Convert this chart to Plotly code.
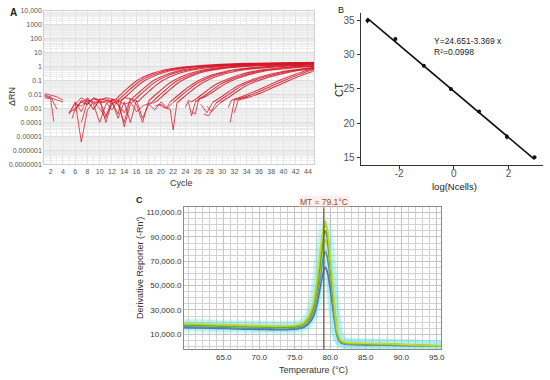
import plotly.graph_objects as go

# ---------------- Panel A : amplification curves ----------------
cycle_ticks = list(range(2, 45, 2))
rn_tickvals = [1e-7, 1e-6, 1e-5, 1e-4, 1e-3, 1e-2, 1e-1, 1, 10, 100, 1000, 10000]
rn_ticktext = ["0.0000001", "0.000001", "0.00001", "0.0001", "0.001", "0.01",
               "0.1", "1", "10", "100", "1000", "10,000"]

# background noise segments (before take-off)
noise_x = [
    [1, 2, 3, 4, None, 6, 7, 8, 9, 10, 11, 12, 12.5],
    [1, 2, 3, None, 5, 6, 7, 8, 9, 10, 11, 12, 13],
    [1, 2, 3, 4, None, 7, 8, 9, 10, 11, 12, 13, 13.5],
    [1, 2, 2.5, None, 5, 6, 7, 8, 9, 10, 11, 12, 13, 14, 15],
    [5.5, 6, 7, 8, 9, 10, 11, 12, 13, 14, 15, 15.5],
    [6, 7, 8, 9, 10, 11, 12, 13, 14, 15, 16.2],
    [5, 6, 7, 8, 9, 10, 11, 12, 13, 14, 15, 16, 17, 18],
    [6, 7, 8, 9, 10, 11, 12, 13, 14, 15, 16, 17, 18.6],
    [8, 9, 10, 11, 12, 13, 14, 15, 16, 17, 18, 19.2],
    [18, 19, 20, 21, 21.5],
    [19, 20, 21, 22],
    [19.5, 20.5, 21.5, 22, 22.6],
    [24, 24.5, 25],
    [24.5, 25, 25.6],
    [25, 25.6, 26.2],
    [26.5, 27.5, 28.5],
    [27, 27.8, 29],
    [27.5, 28.3, 29.6],
    [31, 31.5],
    [31.3, 32],
    [32, 32.6],
]
noise_y = [
    [0.012, 0.009, 0.007, 0.004, None, 0.0007, 0.004, 0.002, 0.005, 0.003, 0.0035, 0.004, 0.004],
    [0.009, 0.007, 0.0009, None, 0.0004, 0.003, 0.0006, 0.006, 0.002, 0.004, 0.0003, 0.002, 0.004],
    [0.008, 0.006, 0.004, 0.003, None, 0.0001, 0.003, 0.001, 0.004, 0.0001, 0.003, 0.0004, 0.0035],
    [0.006, 0.005, 0.00012, None, 0.0005, 0.002, 0.006, 0.003, 0.005, 0.004, 0.005, 0.003, 0.002, 0.0005, 0.004],
    [0.0002, 0.001, 0.003, 0.002, 0.006, 0.004, 0.006, 0.005, 0.004, 0.00005, 0.002, 0.0035],
    [0.003, 0.000004, 0.0008, 0.003, 0.001, 0.0002, 0.005, 0.002, 0.0001, 0.005, 0.003],
    [0.0005, 0.001, 0.003, 0.005, 0.002, 0.0001, 0.002, 0.004, 0.003, 0.006, 0.005, 0.002, 0.0001, 0.0035],
    [0.002, 0.0015, 0.004, 0.003, 0.0025, 0.003, 0.0008, 0.004, 0.002, 0.003, 0.0006, 0.0015, 0.003],
    [0.004, 0.0008, 0.005, 0.004, 0.003, 0.0002, 0.003, 0.0001, 0.004, 0.0002, 0.002, 0.003],
    [0.002, 0.0008, 0.003, 0.0012, 0.003],
    [0.0015, 0.002, 0.001, 0.0028],
    [0.002, 0.0012, 0.0009, 0.00003, 0.0025],
    [0.0012, 0.004, 0.003],
    [0.003, 0.0003, 0.0028],
    [0.0006, 0.0004, 0.005],
    [0.002, 0.0005, 0.003],
    [0.0004, 0.0003, 0.0025],
    [0.0015, 0.0006, 0.0025],
    [0.0012, 0.004],
    [0.0001, 0.004],
    [0.0005, 0.004],
]
# exponential / plateau part of each curve
grow_x = [
    [12.5, 13.5, 14.5, 15.5, 16.5, 18.5, 20.5, 23.5, 28.5, 34.5, 45],
    [13, 14, 15, 16, 17, 19, 21, 24, 29, 35, 45],
    [13.5, 14.5, 15.5, 16.5, 17.5, 19.5, 21.5, 24.5, 29.5, 35.5, 45],
    [15, 16, 17, 18, 19, 21, 23, 26, 31, 37, 45],
    [15.5, 16.5, 17.5, 18.5, 19.5, 21.5, 23.5, 26.5, 31.5, 37.5, 45],
    [16.2, 17.2, 18.2, 19.2, 20.2, 22.2, 24.2, 27.2, 32.2, 38.2, 45],
    [18, 19, 20, 21, 22, 24, 26, 29, 34, 40, 45],
    [18.6, 19.6, 20.6, 21.6, 22.6, 24.6, 26.6, 29.6, 34.6, 40.6, 45],
    [19.2, 20.2, 21.2, 22.2, 23.2, 25.2, 27.2, 30.2, 35.2, 41.2, 45],
    [21.5, 22.5, 23.5, 24.5, 25.5, 27.5, 29.5, 32.5, 37.5, 45],
    [22, 23, 24, 25, 26, 28, 30, 33, 38, 45],
    [22.6, 23.6, 24.6, 25.6, 26.6, 28.6, 30.6, 33.6, 38.6, 45],
    [25, 26, 27, 28, 29, 31, 33, 36, 41, 45],
    [25.6, 26.6, 27.6, 28.6, 29.6, 31.6, 33.6, 36.6, 41.6, 45],
    [26.2, 27.2, 28.2, 29.2, 30.2, 32.2, 34.2, 37.2, 42.2, 45],
    [28.5, 29.5, 30.5, 31.5, 32.5, 34.5, 36.5, 39.5, 45],
    [29, 30, 31, 32, 33, 35, 37, 40, 45],
    [29.6, 30.6, 31.6, 32.6, 33.6, 35.6, 37.6, 40.6, 45],
    [31.5, 33.5, 35.5, 37.5, 39.5, 41.5, 43.5, 45],
    [32, 34, 36, 38, 40, 42, 44, 45],
    [32.6, 34.6, 36.6, 38.6, 40.6, 42.6, 44.6, 45],
]
grow_y = [
    [0.004, 0.011, 0.027, 0.065, 0.13, 0.32, 0.58, 0.95, 1.4, 1.75, 2.1],
    [0.004, 0.01, 0.025, 0.06, 0.12, 0.3, 0.55, 0.9, 1.35, 1.7, 2.0],
    [0.0035, 0.009, 0.023, 0.055, 0.11, 0.28, 0.52, 0.87, 1.3, 1.65, 1.95],
    [0.004, 0.01, 0.024, 0.057, 0.115, 0.29, 0.53, 0.88, 1.32, 1.65, 1.95],
    [0.0035, 0.009, 0.022, 0.052, 0.105, 0.27, 0.5, 0.85, 1.28, 1.6, 1.85],
    [0.003, 0.008, 0.02, 0.048, 0.1, 0.26, 0.48, 0.82, 1.25, 1.55, 1.8],
    [0.0035, 0.009, 0.021, 0.05, 0.1, 0.26, 0.48, 0.8, 1.2, 1.5, 1.7],
    [0.003, 0.008, 0.019, 0.046, 0.095, 0.25, 0.46, 0.78, 1.18, 1.45, 1.62],
    [0.003, 0.0075, 0.018, 0.043, 0.09, 0.24, 0.45, 0.76, 1.15, 1.42, 1.55],
    [0.003, 0.007, 0.016, 0.036, 0.072, 0.19, 0.36, 0.66, 1.05, 1.5],
    [0.0028, 0.0065, 0.015, 0.034, 0.068, 0.18, 0.35, 0.64, 1.02, 1.45],
    [0.0025, 0.006, 0.014, 0.031, 0.063, 0.17, 0.33, 0.61, 0.98, 1.38],
    [0.003, 0.006, 0.013, 0.028, 0.055, 0.14, 0.28, 0.55, 0.95, 1.2],
    [0.0028, 0.0058, 0.012, 0.026, 0.052, 0.135, 0.27, 0.53, 0.92, 1.12],
    [0.005, 0.007, 0.013, 0.026, 0.05, 0.13, 0.26, 0.51, 0.88, 1.05],
    [0.003, 0.0055, 0.011, 0.022, 0.042, 0.1, 0.2, 0.42, 0.9],
    [0.0025, 0.005, 0.01, 0.02, 0.039, 0.095, 0.19, 0.4, 0.85],
    [0.0025, 0.0048, 0.0095, 0.019, 0.037, 0.09, 0.18, 0.38, 0.78],
    [0.004, 0.008, 0.018, 0.045, 0.11, 0.25, 0.5, 0.75],
    [0.004, 0.0075, 0.016, 0.04, 0.1, 0.23, 0.48, 0.68],
    [0.004, 0.007, 0.015, 0.036, 0.09, 0.21, 0.44, 0.55],
]
# shaded decade bands of the log axis (exponents)
band_decades = [-6, -4, -2, 0, 2]

# ---------------- Panel B : standard curve ----------------
log_ncells = [-3.16, -2.14, -1.1, -0.11, 0.92, 1.94, 2.95]
ct_values = [35.0, 32.3, 28.4, 25.0, 21.7, 18.0, 15.0]
ct_err = [0.4, 0.3, 0.2, 0.2, 0.2, 0.4, 0.1]
fit_x = [-3.16, 2.95]
fit_y = [35.30, 14.71]
fit_text = "Y=24.651-3.369 x<br>R²=0.0998"

# ---------------- Panel C : melt curves ----------------
temps = [59.4, 61, 63, 65, 67, 69, 71, 73, 74.5, 75.5, 76.3, 77, 77.6, 78.2, 78.7,
         79.1, 79.3, 79.6, 80, 80.5, 81, 81.5, 82, 82.6, 83.5, 85, 87, 89, 91, 93, 95.6]
melt_yellow = [18800, 18500, 18200, 17900, 17600, 17300, 17000, 16800, 17000, 17800, 20000, 26000, 36000, 58000, 84000,
               100000, 103000, 96000, 74000, 40000, 13000, 5000, 3500, 3000, 2800, 2600, 2300, 2000, 1500, 1000, 600]
melt_green = [18300, 18000, 17600, 17300, 17000, 16700, 16500, 16300, 16500, 17200, 19000, 24000, 33000, 55000, 80000,
              97000, 100000, 94000, 72000, 38000, 12000, 4500, 3000, 2600, 2400, 2200, 2000, 1700, 1300, 900, 500]
melt_olive = [17800, 17500, 17200, 16900, 16600, 16300, 16100, 15900, 16000, 16700, 18500, 23000, 31000, 51000, 75000,
              92000, 95000, 89000, 68000, 35000, 11000, 4200, 2800, 2400, 2200, 2000, 1800, 1500, 1200, 800, 400]
melt_lime = [17500, 17200, 16900, 16600, 16300, 16000, 15800, 15600, 15800, 16500, 18000, 22000, 29000, 47000, 69000,
             85000, 88000, 83000, 63000, 32000, 10000, 4000, 2600, 2200, 2000, 1800, 1600, 1400, 1100, 700, 400]
melt_teal = [16200, 16000, 15700, 15400, 15100, 14800, 14600, 14400, 14600, 15200, 16500, 20000, 27000, 42000, 62000,
             75000, 78000, 73000, 56000, 29000, 9000, 3500, 2300, 2000, 1800, 1600, 1400, 1200, 900, 600, 300]
melt_blue = [15500, 15300, 15000, 14700, 14400, 14100, 13900, 13700, 13900, 14500, 15800, 19000, 24000, 36000, 52000,
             63000, 65000, 61000, 47000, 25000, 8000, 3000, 2000, 1700, 1500, 1300, 1100, 900, 700, 500, 200]
melt_tm = 79.1
melt_label = "MT = 79.1°C"
temp_ticks = [65, 70, 75, 80, 85, 90, 95]
deriv_ticks = [10000, 30000, 50000, 70000, 90000, 110000]

W, H = 550, 380
def fx(p):
    return p / W
def fy(p):
    return 1 - p / H

FONT = "Liberation Sans, Arial, sans-serif"
fig = go.Figure()

# Panel A traces
RED = "rgba(214,22,40,0.85)"
for nx, ny in zip(noise_x, noise_y):
    fig.add_trace(go.Scatter(x=nx, y=ny, mode="lines", line=dict(color=RED, width=0.9),
                             xaxis="x", yaxis="y", showlegend=False, hoverinfo="skip"))
for gx, gy in zip(grow_x, grow_y):
    fig.add_trace(go.Scatter(x=gx, y=gy, mode="lines",
                             line=dict(color=RED, width=1.1, shape="spline", smoothing=0.8),
                             xaxis="x", yaxis="y", showlegend=False, hoverinfo="skip"))

# Panel B traces
fig.add_trace(go.Scatter(x=fit_x, y=fit_y, mode="lines", line=dict(color="#111", width=1.6),
                         xaxis="x2", yaxis="y2", showlegend=False))
fig.add_trace(go.Scatter(x=log_ncells, y=ct_values, mode="markers",
                         marker=dict(color="#111", size=4),
                         error_y=dict(type="data", array=ct_err, color="#111", thickness=1, width=0),
                         xaxis="x2", yaxis="y2", showlegend=False))

# Panel C traces
melt_series = [
    (melt_blue, "#5a6db0"),
    (melt_teal, "#4a94a8"),
    (melt_lime, "#a6ce39"),
    (melt_olive, "#5e8c31"),
    (melt_green, "#86bf3a"),
    (melt_yellow, "#c9d82e"),
]
for ys, col in melt_series:
    fig.add_trace(go.Scatter(x=temps, y=ys, mode="lines",
                             line=dict(color="rgba(90,230,230,0.11)", width=11, shape="spline", smoothing=0.6),
                             xaxis="x3", yaxis="y3", showlegend=False, hoverinfo="skip"))
for ys, col in melt_series:
    fig.add_trace(go.Scatter(x=temps, y=ys, mode="lines",
                             line=dict(color=col, width=1.6, shape="spline", smoothing=0.6),
                             xaxis="x3", yaxis="y3", showlegend=False))

tick_font_a = dict(family=FONT, size=7, color="#555")
tick_font_b = dict(family=FONT, size=10, color="#555")
fig.update_layout(
    width=W, height=H, margin=dict(l=0, r=0, t=0, b=0, autoexpand=False),
    paper_bgcolor="white", plot_bgcolor="rgba(0,0,0,0)",
    font=dict(family=FONT),
    xaxis=dict(domain=[fx(44.3), fx(314.3)], anchor="y", range=[0.96, 45.03], automargin=False,
               tickvals=cycle_ticks, tickfont=tick_font_a, ticks="",
               showgrid=True, gridcolor="#e4e4e4", gridwidth=1,
               minor=dict(dtick=1, showgrid=True, gridcolor="#eeeeee"),
               showline=True, linecolor="#d0d0d0", mirror=True, zeroline=False),
    yaxis=dict(domain=[fy(164.3), fy(11)], anchor="x", type="log", range=[-7, 4], automargin=False,
               tickvals=rn_tickvals, ticktext=rn_ticktext, tickfont=tick_font_a, ticks="",
               showgrid=True, gridcolor="#dedede",
               minor=dict(dtick="D1", showgrid=True, gridcolor="#ececec"),
               showline=True, linecolor="#d0d0d0", mirror=True, zeroline=False),
    xaxis2=dict(domain=[fx(360.7), fx(543)], anchor="y2", range=[-3.41, 3.26], automargin=False,
                tickvals=[-2, 0, 2], ticktext=["-2", "0", "2"], tickfont=tick_font_b,
                ticks="outside", ticklen=3, tickcolor="#333", ticklabelstandoff=-4,
                showgrid=False, zeroline=False, showline=True, linecolor="#333", linewidth=1),
    yaxis2=dict(domain=[fy(164.5), fy(13)], anchor="x2", range=[13.95, 36.1], automargin=False,
                tickvals=[15, 20, 25, 30, 35], tickfont=tick_font_b,
                ticks="outside", ticklen=3, tickcolor="#333",
                showgrid=False, zeroline=False, showline=True, linecolor="#333", linewidth=1),
    xaxis3=dict(domain=[fx(184), fx(441)], anchor="y3", range=[59.4, 95.6], automargin=False,
                tickvals=temp_ticks, tickformat=".1f",
                tickfont=dict(family=FONT, size=8, color="#333"), ticks="",
                showgrid=True, gridcolor="#c4c4c4",
                minor=dict(dtick=1, tick0=60, showgrid=True, gridcolor="#d2d2d2"),
                showline=True, linecolor="#8a8a8a", mirror=True, zeroline=False),
    yaxis3=dict(domain=[fy(349), fy(207.3)], anchor="x3", range=[-2100, 114400], automargin=False,
                tickvals=deriv_ticks, tickformat=",.1f",
                tickfont=dict(family=FONT, size=8, color="#333"), ticks="",
                showgrid=True, gridcolor="#c4c4c4",
                minor=dict(dtick=5000, tick0=0, showgrid=True, gridcolor="#d2d2d2"),
                showline=True, linecolor="#8a8a8a", mirror=True, zeroline=False),
)

# alternating decade bands in panel A
for d in band_decades:
    fig.add_shape(type="rect", xref="x domain", yref="y domain", x0=0, x1=1,
                  y0=(d + 7) / 11, y1=(d + 8) / 11, fillcolor="#f2f2f2",
                  line=dict(width=0), layer="below")

fig.add_shape(type="line", xref="x3", yref="y3 domain", x0=melt_tm, x1=melt_tm, y0=0, y1=1,
              line=dict(color="#7b4a2e", width=1.2))

def ann(text, x, y, size, color="#222", angle=0, bold=False, xanchor="center", yanchor="middle", **kw):
    t = f"<b>{text}</b>" if bold else text
    fig.add_annotation(text=t, x=fx(x), y=fy(y), xref="paper", yref="paper", showarrow=False,
                       font=dict(family=FONT, size=size, color=color), textangle=angle,
                       xanchor=xanchor, yanchor=yanchor, **kw)

ann("A", 13, 13, 10, "#222", bold=True)
ann("ΔRN", 12, 97, 9, "#333", angle=-90)
ann("Cycle", 181, 183, 9, "#333")
ann("B", 341, 10, 9, "#222")
ann("CT", 339, 90, 10.5, "#222", angle=-90)
ann("log(Ncells)", 454, 186, 9.5, "#222")
fig.add_annotation(text=fit_text, x=-0.8, y=31.25, xref="x2", yref="y2", showarrow=False,
                   align="left", xanchor="left", yanchor="middle",
                   font=dict(family=FONT, size=8.5, color="#222"))
ann("C", 139, 200, 9, "#222", bold=True)
ann("Derivative Reporter (-Rn')", 140, 268, 9, "#333", angle=-90)
ann("Temperature (°C)", 313, 370, 9, "#333")
ann(melt_label, 324, 202, 8.5, "#8a4a2a", bgcolor="rgba(255,210,210,0.35)")

fig.write_html("out.html", config={"displayModeBar": False},
               post_script="document.body.style.margin='0';document.body.style.overflow='hidden';")
